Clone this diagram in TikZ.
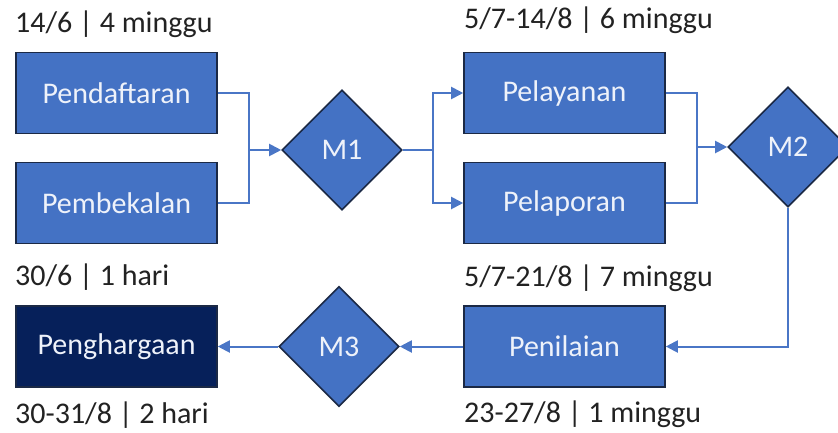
\documentclass[tikz,border=0pt]{standalone}
\usepackage{fontspec}
\setmainfont{Carlito}
\usetikzlibrary{shapes.geometric,arrows.meta}
\definecolor{boxblue}{HTML}{4472C4}
\definecolor{boxedge}{HTML}{1B2945}
\definecolor{navy}{HTML}{06205A}
\definecolor{linkblue}{HTML}{4A76C6}
\definecolor{labeltxt}{HTML}{222222}
\definecolor{boxtxt}{HTML}{EEF2FA}
\tikzset{
  stepbox/.style={rectangle, draw=boxedge, line width=1.6pt, fill=boxblue, text=boxtxt,
    minimum width=201pt, minimum height=81pt, inner sep=0pt, font=\fontsize{30}{35}\selectfont},
  milestone/.style={diamond, aspect=1, draw=boxedge, line width=1.6pt, fill=boxblue, text=boxtxt,
    minimum width=120pt, minimum height=120pt, inner sep=0pt, font=\fontsize{30}{35}\selectfont},
  datelabel/.style={anchor=base west, inner sep=0pt, text=labeltxt, font=\fontsize{30}{35}\selectfont},
  link/.style={draw=linkblue, line width=2pt},
  linkarrow/.style={link, -{Triangle[length=12pt,width=12pt]}},
}
\begin{document}
\begin{tikzpicture}[x=1pt,y=-1pt]
\useasboundingbox (0,0) rectangle (838,432);
\clip (0,0) rectangle (838,432);
\fill[white] (0,0) rectangle (838,432);

% boxes
\node[stepbox] (pend) at (116.5,93) {Pendaftaran};
\node[stepbox] (pemb) at (116.5,203) {Pembekalan};
\node[stepbox] (pelay) at (564.5,93) {Pelayanan};
\node[stepbox] (pelap) at (564.5,203) {Pelaporan};
\node[stepbox] (penil) at (564.5,346.5) {Penilaian};
\node[stepbox, fill=navy] (pengh) at (116.5,346.5) {Penghargaan};

% milestones
\node[milestone] (m1) at (342,150) {M1};
\node[milestone] (m2) at (788,147) {M2};
\node[milestone] (m3) at (339,346.5) {M3};

% labels
\node[datelabel] (l1) at (15,32) {14/6 | 4 minggu};
\node[datelabel] (l2) at (15,285) {30/6 | 1 hari};
\node[datelabel] (l3) at (464,28) {5/7-14/8 | 6 minggu};
\node[datelabel] (l4) at (464,286) {5/7-21/8 | 7 minggu};
\node[datelabel] (l5) at (15,423) {30-31/8 | 2 hari};
\node[datelabel] (l6) at (464,422) {23-27/8 | 1 minggu};

% junctions
\coordinate (j1) at (249,150);
\coordinate (j2) at (433,150);
\coordinate (j3) at (697,147);

% connectors
\draw[link] (pend.east) -| (j1);
\draw[link] (pemb.east) -| (j1);
\draw[linkarrow] (j1) -- (m1.west);
\draw[link] (m1.east) -- (j2);
\draw[linkarrow] (j2) |- (pelay.west);
\draw[linkarrow] (j2) |- (pelap.west);
\draw[link] (pelay.east) -| (j3);
\draw[link] (pelap.east) -| (j3);
\draw[linkarrow] (j3) -- (m2.west);
\draw[linkarrow] (m2.south) |- (penil.east);
\draw[linkarrow] (penil.west) -- (m3.east);
\draw[linkarrow] (m3.west) -- (pengh.east);
\end{tikzpicture}
\end{document}
